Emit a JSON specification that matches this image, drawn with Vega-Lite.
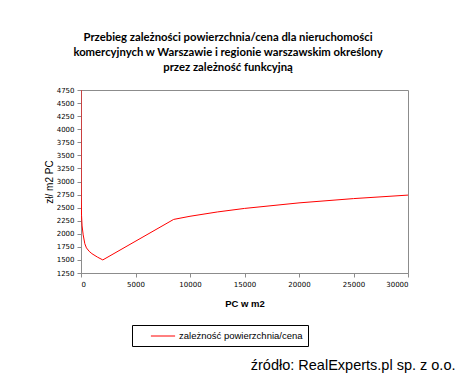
{
  "$schema": "https://vega.github.io/schema/vega-lite/v6.json",
  "width": 327,
  "height": 183,
  "autosize": {"type": "none"},
  "padding": {"left": 81, "top": 90, "right": 49, "bottom": 102},
  "background": "white",
  "title": {
    "text": ["Przebieg zależności powierzchnia/cena  dla nieruchomości", "komercyjnych w Warszawie i regionie warszawskim określony", "przez zależność funkcyjną"],
    "font": "Lato",
    "fontSize": 11.3,
    "fontWeight": "bold",
    "color": "#000000",
    "lineHeight": 15,
    "anchor": "middle",
    "dx": -16.5,
    "offset": 13
  },
  "data": {
    "values": [
      {"x": 0, "y": 4750},
      {"x": 10, "y": 3000},
      {"x": 20, "y": 2700},
      {"x": 50, "y": 2350},
      {"x": 100, "y": 2150},
      {"x": 200, "y": 1980},
      {"x": 350, "y": 1810},
      {"x": 500, "y": 1730},
      {"x": 750, "y": 1665},
      {"x": 1000, "y": 1620},
      {"x": 1500, "y": 1555},
      {"x": 2000, "y": 1500},
      {"x": 8500, "y": 2275},
      {"x": 10000, "y": 2335},
      {"x": 12500, "y": 2417},
      {"x": 15000, "y": 2485},
      {"x": 20000, "y": 2591},
      {"x": 25000, "y": 2673},
      {"x": 30000, "y": 2740}
    ]
  },
  "layer": [
    {
      "mark": {"type": "line", "strokeWidth": 1, "clip": true},
      "encoding": {
        "x": {
          "field": "x", "type": "quantitative",
          "scale": {"domain": [0, 30000], "nice": false, "zero": false},
          "axis": {"values": [0, 5000, 10000, 15000, 20000, 25000, 30000], "format": "d", "title": "PC w m2", "grid": false, "titlePadding": 11}
        },
        "y": {
          "field": "y", "type": "quantitative",
          "scale": {"domain": [1250, 4750], "nice": false, "zero": false},
          "axis": {"values": [1250, 1500, 1750, 2000, 2250, 2500, 2750, 3000, 3250, 3500, 3750, 4000, 4250, 4500, 4750], "format": "d", "title": "zł/ m2 PC", "grid": false, "titleFontWeight": "normal", "titleFontSize": 10, "titlePadding": 2}
        },
        "color": {
          "datum": "zależność powierzchnia/cena",
          "scale": {"range": ["#ff0000"]},
          "legend": {
            "title": null,
            "orient": "none",
            "legendX": 51,
            "legendY": 235,
            "strokeColor": "#000000",
            "padding": 5,
            "symbolType": "M-2.2,0H2.2",
            "symbolSize": 121,
            "symbolStrokeWidth": 1,
            "symbolOffset": 20,
            "labelFont": "Liberation Sans",
            "labelFontSize": 9.5,
            "labelColor": "#000000",
            "labelOffset": 10
          }
        }
      }
    },
    {
      "mark": {"type": "line", "strokeOpacity": 0},
      "encoding": {
        "x": {"field": "x", "type": "quantitative", "scale": {"domain": [0, 30000], "nice": false}},
        "y": {
          "field": "y", "type": "quantitative",
          "scale": {"domain": [1250, 4750], "nice": false, "zero": false},
          "axis": {
            "orient": "right", "domain": false, "ticks": false, "labels": false, "grid": false,
            "title": "źródło: RealExperts.pl sp. z o.o.",
            "titleAngle": 0, "titleX": 47, "titleY": 275,
            "titleAlign": "right", "titleBaseline": "middle",
            "titleFont": "Liberation Sans", "titleFontSize": 14.5, "titleFontWeight": "normal", "titleColor": "#000000"
          }
        }
      }
    }
  ],
  "resolve": {"scale": {"y": "independent"}},
  "config": {
    "view": {"stroke": "#8c8c8c", "strokeWidth": 1},
    "axis": {
      "domainColor": "#8c8c8c",
      "tickColor": "#8c8c8c",
      "tickSize": 4,
      "labelFont": "DejaVu Sans",
      "labelFontSize": 7,
      "labelColor": "#000000",
      "labelPadding": 3,
      "titleFont": "Liberation Sans",
      "titleColor": "#000000",
      "titleFontSize": 9.5,
      "titleFontWeight": "bold"
    }
  }
}
